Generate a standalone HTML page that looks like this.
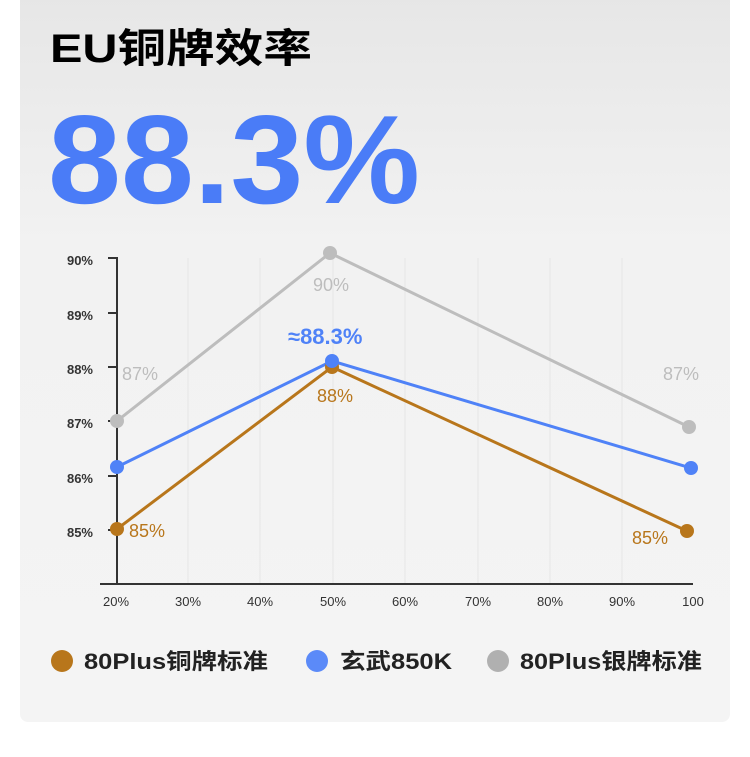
<!DOCTYPE html>
<html><head><meta charset="utf-8"><style>
html,body{margin:0;padding:0;background:#fff;width:750px;height:757px;overflow:hidden}
</style></head><body>
<svg width="750" height="757" xmlns="http://www.w3.org/2000/svg" font-family="Liberation Sans, Noto Sans CJK SC, sans-serif">
<defs><linearGradient id="bg" x1="0" y1="0" x2="0" y2="1"><stop offset="0" stop-color="#e6e6e6"/><stop offset="0.35" stop-color="#f2f2f2"/><stop offset="1" stop-color="#f4f4f4"/></linearGradient></defs>
<rect x="0" y="0" width="750" height="757" fill="#fff"/>
<rect x="20" y="-10" width="710" height="732" rx="8" fill="url(#bg)"/>
<text x="50" y="62" font-size="40" font-weight="bold" fill="#000" textLength="262" lengthAdjust="spacingAndGlyphs">EU铜牌效率</text>
<text x="48" y="203" font-size="126" font-weight="bold" fill="#4a7cf7" textLength="372" lengthAdjust="spacingAndGlyphs">88.3%</text>
<g stroke="#e6e6e6" stroke-width="1">
<line x1="188" y1="258" x2="188" y2="583"/><line x1="260" y1="258" x2="260" y2="583"/><line x1="333" y1="258" x2="333" y2="583"/><line x1="405" y1="258" x2="405" y2="583"/><line x1="478" y1="258" x2="478" y2="583"/><line x1="550" y1="258" x2="550" y2="583"/><line x1="622" y1="258" x2="622" y2="583"/>
</g>
<g stroke="#333" stroke-width="2">
<line x1="117" y1="257" x2="117" y2="584"/><line x1="100" y1="584" x2="693" y2="584"/>
<line x1="108" y1="258" x2="117" y2="258"/><line x1="108" y1="313" x2="117" y2="313"/><line x1="108" y1="367" x2="117" y2="367"/><line x1="108" y1="421" x2="117" y2="421"/><line x1="108" y1="476" x2="117" y2="476"/><line x1="108" y1="530" x2="117" y2="530"/>
</g>
<g font-size="13" font-weight="bold" fill="#333" text-anchor="end">
<text x="93" y="265">90%</text><text x="93" y="320">89%</text><text x="93" y="374">88%</text><text x="93" y="428">87%</text><text x="93" y="483">86%</text><text x="93" y="537">85%</text>
</g>
<g font-size="13" fill="#333" text-anchor="middle">
<text x="116" y="606">20%</text><text x="188" y="606">30%</text><text x="260" y="606">40%</text><text x="333" y="606">50%</text><text x="405" y="606">60%</text><text x="478" y="606">70%</text><text x="550" y="606">80%</text><text x="622" y="606">90%</text><text x="693" y="606">100</text>
</g>
<polyline points="117,421 330,253 689,427" fill="none" stroke="#bdbdbd" stroke-width="3"/>
<polyline points="117,529 332,367 687,531" fill="none" stroke="#b8761b" stroke-width="3"/>
<polyline points="117,467 332,361 691,468" fill="none" stroke="#4f82f7" stroke-width="3"/>
<g fill="#bdbdbd"><circle cx="117" cy="421" r="7"/><circle cx="330" cy="253" r="7"/><circle cx="689" cy="427" r="7"/></g>
<g fill="#b8761b"><circle cx="117" cy="529" r="7"/><circle cx="332" cy="367" r="7"/><circle cx="687" cy="531" r="7"/></g>
<g fill="#4f82f7"><circle cx="117" cy="467" r="7"/><circle cx="332" cy="361" r="7"/><circle cx="691" cy="468" r="7"/></g>
<g font-size="18" fill="#bdbdbd"><text x="122" y="380">87%</text><text x="313" y="291">90%</text><text x="663" y="380">87%</text></g>
<g font-size="18" fill="#b8761b"><text x="129" y="537">85%</text><text x="317" y="402">88%</text><text x="632" y="544">85%</text></g>
<text x="288" y="344" font-size="22" font-weight="bold" fill="#4f82f7">≈88.3%</text>
<g font-size="22" font-weight="bold" fill="#222">
<circle cx="62" cy="661" r="11" fill="#b8761b"/><text x="84" y="669" textLength="184" lengthAdjust="spacingAndGlyphs">80Plus铜牌标准</text>
<circle cx="317" cy="661" r="11" fill="#5b8af8"/><text x="340" y="669" textLength="112" lengthAdjust="spacingAndGlyphs">玄武850K</text>
<circle cx="498" cy="661" r="11" fill="#b0b0b0"/><text x="520" y="669" textLength="182" lengthAdjust="spacingAndGlyphs">80Plus银牌标准</text>
</g>
</svg>
</body></html>
